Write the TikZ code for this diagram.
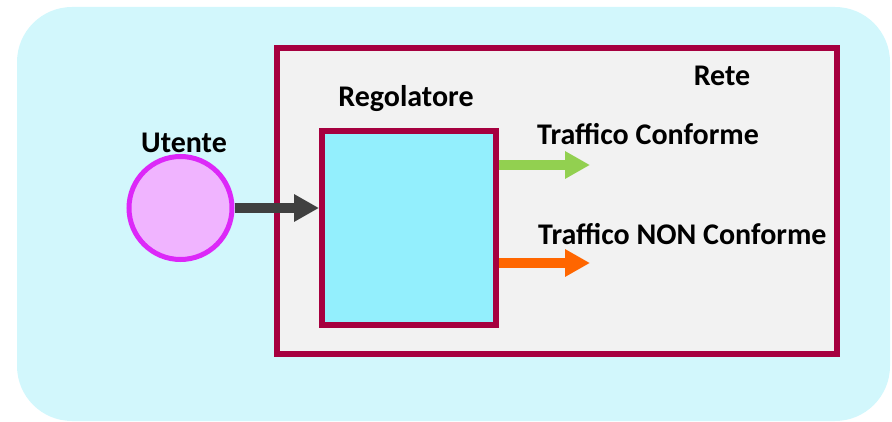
\documentclass[tikz,border=0pt]{standalone}
\usepackage{fontspec}
\setmainfont{Carlito}
\usetikzlibrary{arrows.meta}
\definecolor{bgcyan}{HTML}{D2F7FC}
\definecolor{netfill}{HTML}{F2F2F2}
\definecolor{crimson}{HTML}{A6003F}
\definecolor{regfill}{HTML}{93EFFD}
\definecolor{userfill}{HTML}{F0B4FF}
\definecolor{userline}{HTML}{DC28F8}
\definecolor{darkarrow}{HTML}{404040}
\definecolor{okgreen}{HTML}{92D050}
\definecolor{badorange}{HTML}{FF6600}
\tikzset{
  lbl/.style={font=\fontsize{30}{33}\selectfont\bfseries, inner sep=0pt},
  blockarrow/.style={line width=10pt, -{Triangle[length=25pt,width=26pt]}},
  netbox/.style={draw=crimson, line width=6pt, fill=netfill, rectangle, inner sep=0pt},
  regbox/.style={draw=crimson, line width=6pt, fill=regfill, rectangle, inner sep=0pt},
  userdisc/.style={draw=userline, line width=5pt, fill=userfill, circle, inner sep=0pt}
}
\begin{document}
\begin{tikzpicture}[x=1pt,y=-1pt]
  \useasboundingbox (0,0) rectangle (892,422);
  % rounded backdrop
  \fill[bgcyan, rounded corners=55pt] (17,7) rectangle (890,421);
  % network frame
  \node[netbox, minimum width=560pt, minimum height=306pt] (rete) at (557,201) {};
  % regulator
  \node[regbox, minimum width=174pt, minimum height=194pt] (reg) at (409,228) {};
  % user
  \node[userdisc, minimum size=103pt] (utente) at (180.5,208) {};
  % labels
  \node[lbl, anchor=base] (lutente) at (184,153) {Utente};
  \node[lbl, anchor=base] (lreg) at (406,107) {Regolatore};
  \node[lbl, anchor=base] (lrete) at (722,86) {Rete};
  \node[lbl, anchor=base west] (lok) at (537,145) {Traffico Conforme};
  \node[lbl, anchor=base west] (lnok) at (538,245) {Traffico NON Conforme};
  % flows
  \coordinate (okend) at (590,165);
  \coordinate (nokend) at (590,263);
  \draw[blockarrow, darkarrow] (utente.east) -- (reg.west |- utente.east);
  \draw[blockarrow, okgreen] (reg.east |- okend) -- (okend);
  \draw[blockarrow, badorange] (reg.east |- nokend) -- (nokend);
\end{tikzpicture}
\end{document}
